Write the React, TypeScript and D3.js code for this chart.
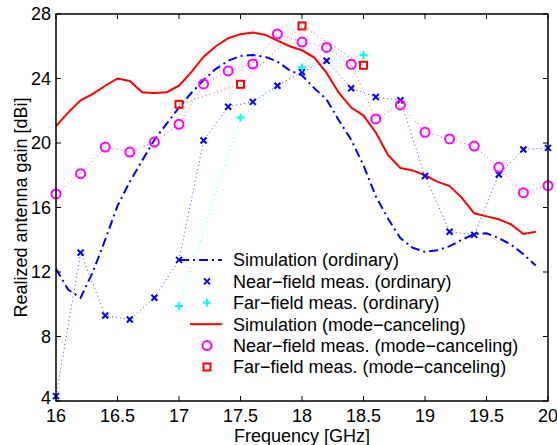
import React from "react";
import * as d3 from "d3";

const simOrdFreq = [16.0,16.1,16.2,16.3,16.4,16.5,16.6,16.7,16.8,16.9,17.0,17.1,17.2,17.3,17.4,17.5,17.6,17.7,17.8,17.9,18.0,18.1,18.2,18.3,18.4,18.5,18.6,18.7,18.8,18.9,19.0,19.1,19.2,19.3,19.4,19.5,19.6,19.7,19.8,19.9];
const simOrdGain = [12.2,10.9,10.4,12.0,14.0,16.1,17.6,18.9,20.2,21.2,22.2,23.1,23.9,24.6,25.1,25.4,25.45,25.35,25.05,24.5,24.2,23.4,22.7,21.4,20.2,18.6,16.7,15.3,14.1,13.5,13.25,13.35,13.6,14.0,14.35,14.4,14.1,13.7,13.1,12.4];

const simModeFreq = simOrdFreq;
const simModeGain = [21.05,21.9,22.65,23.05,23.55,24.0,23.85,23.15,23.1,23.15,23.55,24.4,25.35,26.0,26.5,26.75,26.85,26.72,26.35,26.0,25.75,25.3,24.35,23.1,22.2,21.7,20.65,19.25,18.45,18.3,18.0,17.6,17.33,16.6,15.64,15.45,15.27,14.95,14.36,14.5];

const nfFreq = [16.0,16.2,16.4,16.6,16.8,17.0,17.2,17.4,17.6,17.8,18.0,18.2,18.4,18.6,18.8,19.0,19.2,19.4,19.6,19.8,20.0];
const nfOrdGain = [4.3,13.2,9.3,9.05,10.4,12.75,20.15,22.25,22.55,23.55,24.4,25.1,23.4,22.85,22.65,17.95,14.5,14.3,18.05,19.6,19.7];
const nfModeGain = [16.84,18.1,19.75,19.44,20.06,21.16,23.66,24.47,24.9,26.76,26.26,25.93,24.88,21.49,22.36,20.66,20.25,19.81,18.49,16.92,17.35];

const ffFreq = [17.0,17.5,18.0,18.5];
const ffOrdGain = [9.89,21.57,24.69,25.46];
const ffModeGain = [22.4,23.64,27.26,24.82];

const xTicks = [16,16.5,17,17.5,18,18.5,19,19.5,20];
const yTicks = [4,8,12,16,20,24,28];

const legendLabels = [
  "Simulation (ordinary)",
  "Near\u2212field meas. (ordinary)",
  "Far\u2212field meas. (ordinary)",
  "Simulation (mode\u2212canceling)",
  "Near\u2212field meas. (mode\u2212canceling)",
  "Far\u2212field meas. (mode\u2212canceling)",
];

const W = 557, H = 445;
const L = 56, R = 548, T = 14, B = 401;
const FONT = "'Liberation Sans', Arial, Helvetica, sans-serif";
const FS = 18;

function Marker({ kind, x, y }: { kind: string; x: number; y: number }) {
  if (kind === "x") {
    const s = 3;
    return <path d={`M${x - s},${y - s}L${x + s},${y + s}M${x - s},${y + s}L${x + s},${y - s}`} stroke="#0000ff" strokeWidth={2} fill="none" />;
  }
  if (kind === "+") {
    const s = 4;
    return <path d={`M${x - s},${y}L${x + s},${y}M${x},${y - s}L${x},${y + s}`} stroke="#00ffff" strokeWidth={2} fill="none" />;
  }
  if (kind === "o") {
    return <circle cx={x} cy={y} r={4.5} stroke="#ff00ff" strokeWidth={2} fill="none" />;
  }
  return <rect x={x - 3.5} y={y - 3.5} width={7} height={7} stroke="#ff0000" strokeWidth={2} fill="none" />;
}

export default function App() {
  const x = d3.scaleLinear().domain([16, 20]).range([L, R]);
  const y = d3.scaleLinear().domain([4, 28]).range([B, T]);
  const line = d3.line<[number, number]>().x(d => x(d[0])).y(d => y(d[1]));
  const zip = (a: number[], b: number[]) => a.map((v, i) => [v, b[i]] as [number, number]);

  const dotted = (pts: [number, number][], color: string) => (
    <path d={line(pts) || ""} stroke={color} strokeWidth={1} strokeDasharray="1,3" fill="none" opacity={0.75} />
  );

  const legendY0 = 260, legendDy = 21.4;
  const lx0 = 190, lx1 = 222, lmx = 207, ltx = 233;

  return (
    <svg width={W} height={H} style={{ position: "absolute", left: 0, top: 0, background: "#fff" }} fontFamily={FONT}>
      <rect x={0} y={0} width={W} height={H} fill="#fff" />
      {dotted(zip(nfFreq, nfOrdGain), "#0000ff")}
      {dotted(zip(ffFreq, ffOrdGain), "#00ffff")}
      {dotted(zip(nfFreq, nfModeGain), "#ff00ff")}
      {dotted(zip(ffFreq, ffModeGain), "#ff0000")}
      <path d={line(zip(simOrdFreq, simOrdGain)) || ""} stroke="#0000ff" strokeWidth={2} strokeDasharray="9,4,2,4" fill="none" />
      <path d={line(zip(simModeFreq, simModeGain)) || ""} stroke="#ff0000" strokeWidth={2} fill="none" />
      {nfFreq.map((f, i) => <Marker key={"a" + i} kind="x" x={x(f)} y={y(nfOrdGain[i])} />)}
      {ffFreq.map((f, i) => <Marker key={"b" + i} kind="+" x={x(f)} y={y(ffOrdGain[i])} />)}
      {nfFreq.map((f, i) => <Marker key={"c" + i} kind="o" x={x(f)} y={y(nfModeGain[i])} />)}
      {ffFreq.map((f, i) => <Marker key={"d" + i} kind="s" x={x(f)} y={y(ffModeGain[i])} />)}

      <rect x={L} y={T} width={R - L} height={B - T} fill="none" stroke="#000" strokeWidth={1.5} />
      {xTicks.map(t => (
        <g key={"xt" + t}>
          <line x1={x(t)} x2={x(t)} y1={B} y2={B - 5} stroke="#000" strokeWidth={1} />
          <line x1={x(t)} x2={x(t)} y1={T} y2={T + 5} stroke="#000" strokeWidth={1} />
          <text x={x(t)} y={B + 21} textAnchor="middle" fontSize={FS} fill="#000">{String(t)}</text>
        </g>
      ))}
      {yTicks.map(t => (
        <g key={"yt" + t}>
          <line x1={L} x2={L + 5} y1={y(t)} y2={y(t)} stroke="#000" strokeWidth={1} />
          <line x1={R} x2={R - 5} y1={y(t)} y2={y(t)} stroke="#000" strokeWidth={1} />
          <text x={L - 5} y={t === 4 ? y(t) - 3 : y(t)} dy="0.35em" textAnchor="end" fontSize={FS} fill="#000">{String(t)}</text>
        </g>
      ))}
      <text x={(L + R) / 2} y={442} textAnchor="middle" fontSize={FS} fill="#000">Frequency [GHz]</text>
      <text transform={`translate(27,${(T + B) / 2}) rotate(-90)`} textAnchor="middle" fontSize={FS} fill="#000">Realized antenna gain [dBi]</text>

      {legendLabels.map((lab, i) => {
        const ly = legendY0 + i * legendDy;
        return (
          <g key={"lg" + i}>
            {i === 0 && <line x1={lx0 - 10} x2={lx1} y1={ly} y2={ly} stroke="#0000ff" strokeWidth={2} strokeDasharray="9,4,2,4" />}
            {i === 3 && <line x1={lx0} x2={lx1} y1={ly} y2={ly} stroke="#ff0000" strokeWidth={2} />}
            {i === 1 && <Marker kind="x" x={lmx} y={ly} />}
            {i === 2 && <Marker kind="+" x={lmx} y={ly} />}
            {i === 4 && <Marker kind="o" x={lmx} y={ly} />}
            {i === 5 && <Marker kind="s" x={lmx} y={ly} />}
            <text x={ltx} y={ly} dy="0.35em" fontSize={FS} fill="#000">{lab}</text>
          </g>
        );
      })}
    </svg>
  );
}
